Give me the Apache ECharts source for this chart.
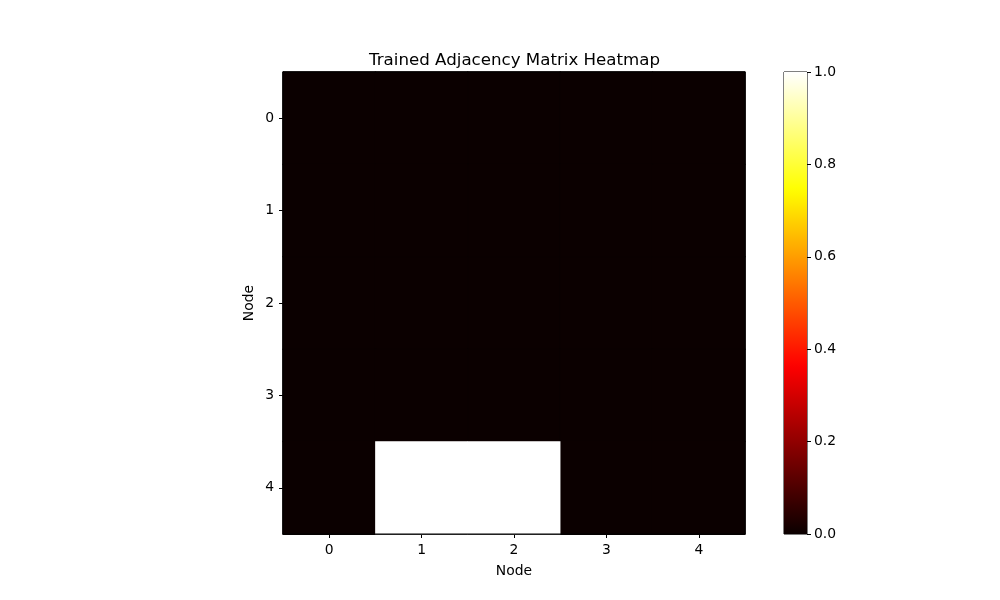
<!DOCTYPE html>
<html><head><meta charset="utf-8">
<script src="https://cdn.jsdelivr.net/npm/echarts@6/dist/echarts.min.js"></script>
<style>html,body{margin:0;padding:0;background:#fff}#c{width:1000px;height:600px}</style>
</head><body><div id="c"></div>
<script>
const xCategories = ['0','1','2','3','4'];
const yCategories = ['0','1','2','3','4'];
const matrixRow0 = [0,0,0,0,0];
const matrixRow1 = [0,0,0,0,0];
const matrixRow2 = [0,0,0,0,0];
const matrixRow3 = [0,0,0,0,0];
const matrixRow4 = [0,1,1,0,0];
const colorbarTicks = [0,0.2,0.4,0.6,0.8,1.0];

// matplotlib 'hot' colormap
function hot(t){
  const r = t<0.365079 ? 0.0416+(1-0.0416)*t/0.365079 : 1;
  const g = t<0.365079 ? 0 : (t<0.746032 ? (t-0.365079)/(0.746032-0.365079) : 1);
  const b = t<0.746032 ? 0 : (t-0.746032)/(1-0.746032);
  const h = x=>Math.round(Math.max(0,Math.min(1,x))*255).toString(16).padStart(2,'0');
  return '#'+h(r)+h(g)+h(b);
}

const rows = [matrixRow0,matrixRow1,matrixRow2,matrixRow3,matrixRow4];
const data = [];
rows.forEach((r,yi)=>r.forEach((v,xi)=>data.push({value:[xi,yi,v],itemStyle:{borderColor:hot(v),borderWidth:v>=1?0:1}})));
// draw brighter cells last so their edges stay crisp
data.sort((a,b)=>a.value[2]-b.value[2]);

const N=64, stops=[], gradStops=[];
for(let i=0;i<=N;i++){const t=i/N; stops.push(hot(t)); gradStops.push({offset:1-t,color:hot(t)});}

const font = 'DejaVu Sans';
const chart = echarts.init(document.getElementById('c'),null,{renderer:'canvas'});
chart.setOption({
  animation:false,
  backgroundColor:'#fff',
  title:{text:'Trained Adjacency Matrix Heatmap',left:364,top:47,
    textStyle:{fontFamily:font,fontSize:16.67,fontWeight:'normal',color:'#000'}},
  grid:[
    {left:283,top:72,width:462,height:462,show:true,borderColor:'#000',borderWidth:1,backgroundColor:'transparent',z:5},
    {left:784,top:72,width:23,height:462,show:true,borderColor:'#000',borderWidth:1}
  ],
  xAxis:[
    {type:'category',data:xCategories,gridIndex:0,name:'Node',nameLocation:'middle',nameGap:30,
      nameTextStyle:{fontFamily:font,fontSize:13.9,color:'#000'},
      axisLine:{show:true,lineStyle:{color:'#000'}},
      axisTick:{show:true,alignWithLabel:true,length:4,lineStyle:{color:'#000'}},
      axisLabel:{fontFamily:font,fontSize:13.9,color:'#000',margin:9},splitLine:{show:false}},
    {type:'category',data:['c'],gridIndex:1,show:false}
  ],
  yAxis:[
    {type:'category',data:yCategories,gridIndex:0,inverse:true,name:'Node',nameLocation:'middle',nameGap:27,
      nameTextStyle:{fontFamily:font,fontSize:13.9,color:'#000'},
      axisLine:{show:true,lineStyle:{color:'#000'}},
      axisTick:{show:true,alignWithLabel:true,length:4,lineStyle:{color:'#000'}},
      axisLabel:{fontFamily:font,fontSize:13.9,color:'#000',margin:9},splitLine:{show:false}},
    {type:'value',gridIndex:1,min:0,max:1,interval:0.2,position:'right',
      axisLine:{show:false},
      axisTick:{show:true,length:4,lineStyle:{color:'#000'}},
      axisLabel:{fontFamily:font,fontSize:13.9,color:'#000',margin:7,formatter:v=>v.toFixed(1)},
      splitLine:{show:false}}
  ],
  visualMap:{show:false,min:0,max:1,seriesIndex:0,inRange:{color:stops}},
  series:[
    {type:'heatmap',xAxisIndex:0,yAxisIndex:0,data:data},
    {type:'bar',xAxisIndex:1,yAxisIndex:1,data:[colorbarTicks[colorbarTicks.length-1]],barWidth:'100%',
      itemStyle:{color:new echarts.graphic.LinearGradient(0,0,0,1,gradStops)},silent:true}
  ]
});
</script></body></html>
